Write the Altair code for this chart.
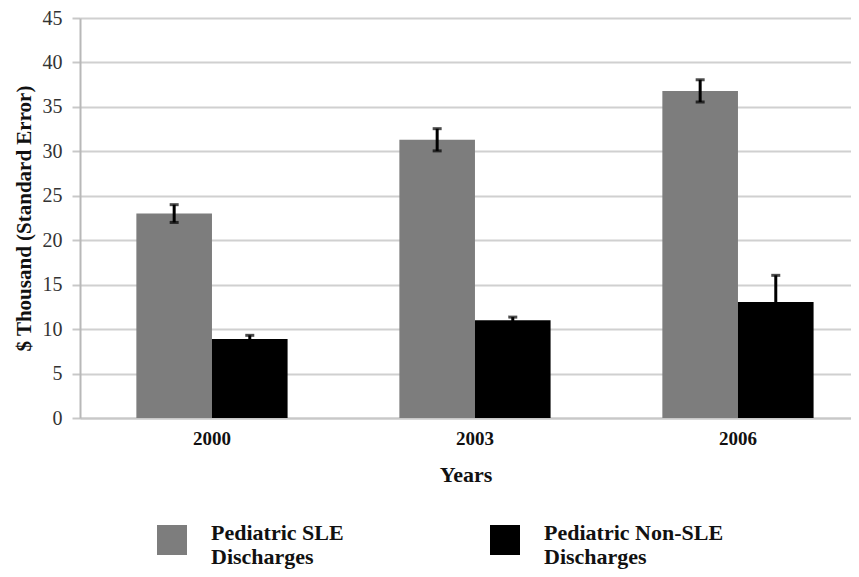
import altair as alt
import pandas as pd

years = ["2000", "2003", "2006"]
series = ["Pediatric SLE|Discharges", "Pediatric Non-SLE|Discharges"]
sle_values = [23.0, 31.3, 36.8]
sle_se = [1.0, 1.25, 1.25]
non_values = [8.9, 11.0, 13.05]
non_se = [0.4, 0.35, 3.0]
y_ticks = [0, 5, 10, 15, 20, 25, 30, 35, 40, 45]

rows = []
for i, yr in enumerate(years):
    for s, vals, ses in ((series[0], sle_values, sle_se), (series[1], non_values, non_se)):
        rows.append(dict(year=yr, series=s, value=vals[i],
                         lo=vals[i] - ses[i], hi=vals[i] + ses[i]))
df = pd.DataFrame(rows)

W, H = 771, 400
SERIF = "Liberation Serif"

x = alt.X("year:N", title="Years",
          scale=alt.Scale(paddingInner=0.425, paddingOuter=0.1783, align=0.601),
          axis=alt.Axis(labelAngle=0, labelFont=SERIF, labelFontSize=19, labelFontWeight="bold",
                        labelColor="#111111", ticks=False, tickSize=0, labelPadding=11,
                        domainColor="#c8c8c8", domainWidth=2,
                        titleFont=SERIF, titleFontSize=22, titleFontWeight="bold",
                        titleColor="#111111", titlePadding=16))
xo = alt.XOffset("series:N", scale=alt.Scale(domain=series), sort=series)

yscale = alt.Scale(domain=[0, 45])
yaxis = alt.Axis(values=y_ticks, title="$ Thousand (Standard Error)",
                 titleFont=SERIF, titleFontSize=21, titleFontWeight="bold", titleColor="#111111",
                 titlePadding=8,
                 labelFont=SERIF, labelFontSize=20, labelColor="#333333", labelPadding=10,
                 gridColor="#d0d0d0", gridWidth=2,
                 domainColor="#b8b8b8", domainWidth=2,
                 tickColor="#c8c8c8", tickSize=8, tickWidth=2)

base = alt.Chart(df)

bars = base.mark_bar().encode(
    x=x, xOffset=xo,
    y=alt.Y("value:Q", scale=yscale, axis=yaxis),
    color=alt.Color("series:N", scale=alt.Scale(domain=series, range=["#7d7d7d", "#000000"]),
                    legend=alt.Legend(orient="none", direction="horizontal", title=None,
                                      legendX=77, legendY=507, padding=0,
                                      symbolType="square", symbolSize=900, symbolStrokeWidth=0,
                                      labelExpr="split(datum.label, '|')",
                                      labelFont=SERIF, labelFontSize=22, labelFontWeight="bold",
                                      labelColor="#111111", labelBaseline="alphabetic",
                                      labelOffset=24, columnPadding=146, labelLimit=300)),
)

rules = base.mark_rule(strokeWidth=3, color="black").encode(
    x=x, xOffset=xo, y=alt.Y("lo:Q", scale=yscale), y2="hi:Q")
cap_hi = base.mark_tick(thickness=3, size=9, color="black").encode(
    x=x, xOffset=xo, y=alt.Y("hi:Q", scale=yscale))
cap_lo = base.mark_tick(thickness=3, size=9, color="black").encode(
    x=x, xOffset=xo, y=alt.Y("lo:Q", scale=yscale))

chart = alt.layer(bars, rules, cap_hi, cap_lo).properties(
    width=W, height=H,
    autosize=alt.AutoSizeParams(type="none"),
    padding={"left": 72, "top": 10, "right": 0, "bottom": 151},
).configure_view(stroke=None)

chart.save("out.html", embed_options={"renderer": "svg", "actions": False})
